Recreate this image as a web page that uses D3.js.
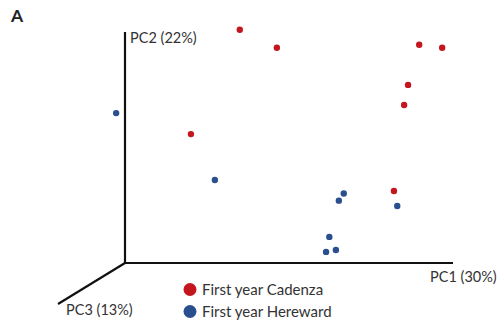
<!DOCTYPE html>
<html>
<head>
<meta charset="utf-8">
<script src="https://cdn.jsdelivr.net/npm/d3@7"></script>
<style>
  html, body { margin: 0; padding: 0; background: #fff; }
  svg { display: block; }
  text { font-family: Lato, "Open Sans", sans-serif; fill: #333; }
</style>
</head>
<body>
<svg id="chart" width="498" height="322"></svg>
<script>
// PCA scores projected onto the plotting plane (PC1 horizontal, PC2 vertical)
const groups = ["First year Cadenza", "First year Hereward"];
const groupColors = ["#c3161f", "#2a4f8f"];

const cadenzaPC1 = [0.350, 0.463, 0.897, 0.967, 0.863, 0.851, 0.201, 0.820];
const cadenzaPC2 = [1.010, 0.932, 0.945, 0.932, 0.771, 0.684, 0.558, 0.312];

const herewardPC1 = [-0.027, 0.274, 0.667, 0.652, 0.830, 0.623, 0.613, 0.643];
const herewardPC2 = [0.649, 0.359, 0.301, 0.270, 0.247, 0.113, 0.048, 0.056];

const axisLabels = ["PC1 (30%)", "PC2 (22%)", "PC3 (13%)"];

const svg = d3.select("#chart");

// origin of the 3D axis frame
const x = d3.scaleLinear().domain([0, 1]).range([125, 453]);
const y = d3.scaleLinear().domain([0, 1]).range([263, 32]);
const depth = { dx: -67, dy: 41 };   // direction of the PC3 axis

const ink = "#111";

// axes
svg.append("line")
  .attr("x1", x(0)).attr("y1", y(0)).attr("x2", x(0)).attr("y2", y(1))
  .attr("stroke", ink).attr("stroke-width", 2.2);
svg.append("line")
  .attr("x1", x(0) - 1).attr("y1", y(0)).attr("x2", x(1)).attr("y2", y(0))
  .attr("stroke", ink).attr("stroke-width", 2.2);
svg.append("line")
  .attr("x1", x(0)).attr("y1", y(0))
  .attr("x2", x(0) + depth.dx).attr("y2", y(0) + depth.dy)
  .attr("stroke", ink).attr("stroke-width", 2.2);

// axis labels
svg.append("text").attr("x", x(0) + 5).attr("y", y(1) + 11)
  .attr("font-size", 14.5).text(axisLabels[1]);
svg.append("text").attr("x", 430).attr("y", 282)
  .attr("font-size", 14.5).text(axisLabels[0]);
svg.append("text").attr("x", 66).attr("y", 315)
  .attr("font-size", 14.5).text(axisLabels[2]);

// panel letter
svg.append("text").attr("x", 11).attr("y", 22)
  .attr("font-size", 17.5).attr("font-weight", "bold")
  .style("fill", "#222").text("A");

// sample points
const series = [
  { pc1: cadenzaPC1, pc2: cadenzaPC2, color: groupColors[0] },
  { pc1: herewardPC1, pc2: herewardPC2, color: groupColors[1] }
];
series.forEach(s => {
  svg.append("g").selectAll("circle")
    .data(d3.zip(s.pc1, s.pc2))
    .join("circle")
    .attr("cx", d => x(d[0]))
    .attr("cy", d => y(d[1]))
    .attr("r", 3.2)
    .attr("fill", s.color);
});

// legend
const legend = svg.append("g").attr("transform", "translate(190,289.5)");
groups.forEach((g, i) => {
  const row = legend.append("g").attr("transform", `translate(0,${i * 22})`);
  row.append("circle").attr("r", 6.5).attr("fill", groupColors[i]);
  row.append("text").attr("x", 12).attr("y", 5.5)
    .attr("font-size", 15).text(g);
});
</script>
</body>
</html>
